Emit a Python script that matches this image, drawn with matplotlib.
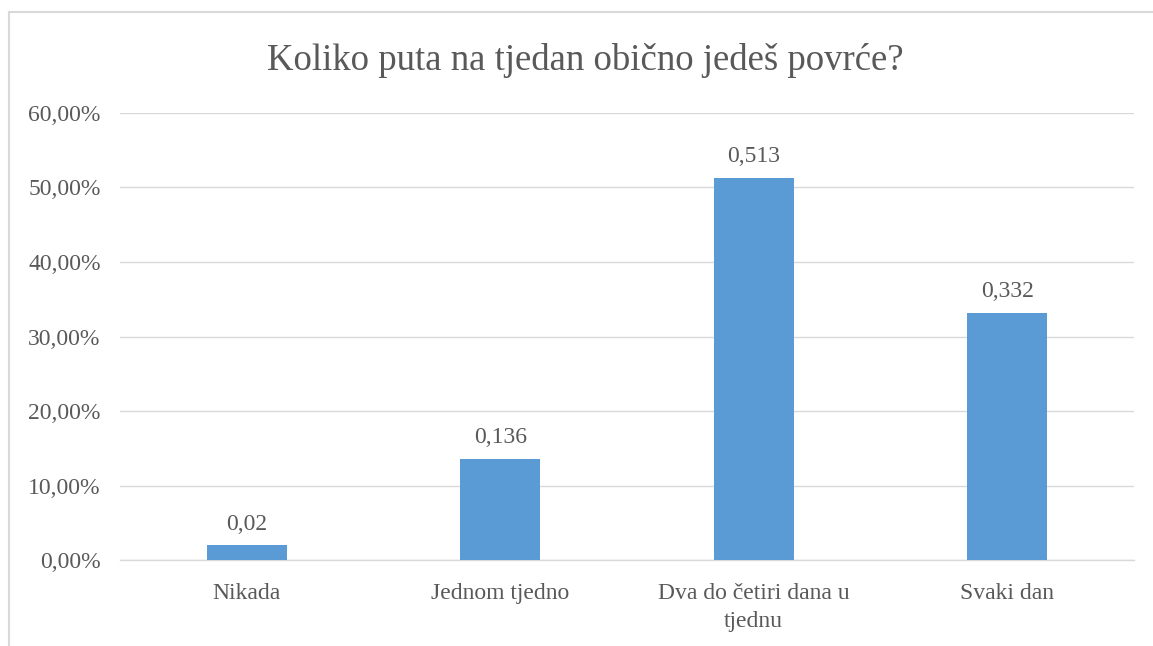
import matplotlib
matplotlib.use("Agg")
import matplotlib.pyplot as plt
from matplotlib.ticker import FuncFormatter
from matplotlib.lines import Line2D

categories = ["Nikada", "Jednom tjedno", "Dva do četiri dana u\ntjednu", "Svaki dan"]
values = [0.02, 0.136, 0.513, 0.332]
value_labels = ["0,02", "0,136", "0,513", "0,332"]
yticks = [0.0, 0.1, 0.2, 0.3, 0.4, 0.5, 0.6]
title = "Koliko puta na tjedan obično jedeš povrće?"

plt.rcParams['font.family'] = ['Liberation Serif', 'DejaVu Serif']
text_color = "#595959"
bar_color = "#5B9BD5"
grid_color = "#D9D9D9"

fig = plt.figure(figsize=(11.53, 6.46), dpi=100)
ax = fig.add_axes([0.1041, 0.1331, 0.8794, 0.6920])

x = list(range(len(categories)))
ax.bar(x, values, width=0.315, color=bar_color, zorder=3)
for xi, v, lab in zip(x, values, value_labels):
    ax.annotate(lab, (xi, v), xytext=(0, 7.5), textcoords="offset points",
                ha="center", va="bottom", fontsize=17, color=text_color)

ax.set_xlim(-0.5, len(categories) - 0.5)
ax.set_ylim(0, 0.6)
ax.set_yticks(yticks)
ax.yaxis.set_major_formatter(FuncFormatter(lambda v, p: f"{v*100:.2f}%".replace(".", ",")))
ax.set_xticks(x)
ax.set_xticklabels(categories, linespacing=1.45)
ax.tick_params(axis="both", length=0, labelsize=17, colors=text_color)
ax.tick_params(axis="x", pad=16.5)
ax.tick_params(axis="y", pad=14)
ax.grid(axis="y", color=grid_color, linewidth=1, zorder=0)
for s in ["top", "right", "left"]:
    ax.spines[s].set_visible(False)
ax.spines["bottom"].set_color(grid_color)
ax.spines["bottom"].set_linewidth(1)

fig.text(585 / 1153, 1 - 60 / 646, title, ha="center", va="center", fontsize=26.5, color=text_color)

# outer chart border (top and left visible)
fig.add_artist(Line2D([9/1153, 1.0], [1 - 12/646, 1 - 12/646], transform=fig.transFigure,
                      color=grid_color, linewidth=1.5))
fig.add_artist(Line2D([9/1153, 9/1153], [0, 1 - 12/646], transform=fig.transFigure,
                      color=grid_color, linewidth=1.5))

fig.savefig("out.png", dpi=100, facecolor="white")
